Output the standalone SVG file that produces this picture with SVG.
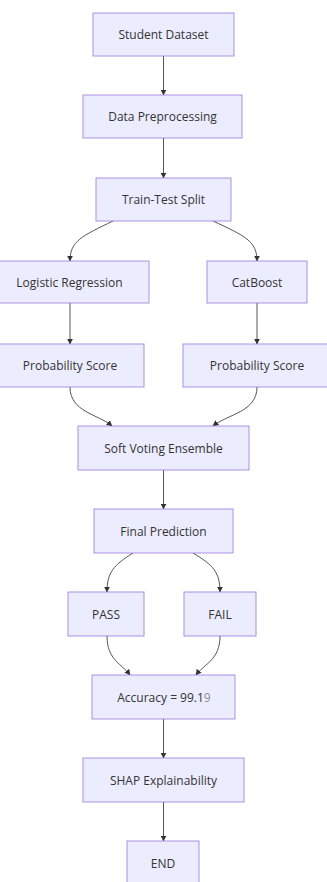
<svg xmlns="http://www.w3.org/2000/svg" width="327" height="882" viewBox="0 0 327 882">
<defs>
<style>
.node rect{fill:#ECECFF;stroke:#9370DB;stroke-width:1;stroke-opacity:0.75}
.node text{font-family:"Open Sans","Noto Sans","DejaVu Sans",sans-serif;font-size:12px;fill:#333;text-anchor:middle;dominant-baseline:central}
.edges path{fill:none;stroke:#555;stroke-width:1}
</style>
<marker id="arr" viewBox="0 0 10 10" refX="9" refY="5" markerWidth="6" markerHeight="6" markerUnits="userSpaceOnUse" orient="auto">
<path d="M0,0 L10,5 L0,10 z" fill="#333"/>
</marker>
</defs>
<rect width="327" height="882" fill="#fff"/>
<g class="edges">
<path d="M163.5,56 L163.5,95" marker-end="url(#arr)"/>
<path d="M163.5,138 L163.5,178" marker-end="url(#arr)"/>
<path d="M113,221 C82,236 70,241 70,261" marker-end="url(#arr)"/>
<path d="M213,221 C245,236 257,241 257,261" marker-end="url(#arr)"/>
<path d="M70,303 L70,344" marker-end="url(#arr)"/>
<path d="M257,303 L257,344" marker-end="url(#arr)"/>
<path d="M70,387 C70,412 98,414 112,426" marker-end="url(#arr)"/>
<path d="M257,387 C257,412 228,414 213,426" marker-end="url(#arr)"/>
<path d="M163.5,470 L163.5,509" marker-end="url(#arr)"/>
<path d="M133,553 C114,565 107,572 107,592" marker-end="url(#arr)"/>
<path d="M193,553 C213,565 220,572 220,592" marker-end="url(#arr)"/>
<path d="M107,636 C107,660 122,664 130,675" marker-end="url(#arr)"/>
<path d="M220,636 C220,660 204,664 196,675" marker-end="url(#arr)"/>
<path d="M163.5,719 L163.5,758" marker-end="url(#arr)"/>
<path d="M163.5,802 L163.5,841" marker-end="url(#arr)"/>
</g>
<g id="n1" class="node"><rect x="93" y="13" width="141" height="43"/><text x="163.5" y="34.5">Student Dataset</text></g>
<g id="n2" class="node"><rect x="83" y="95" width="159" height="43"/><text x="162.5" y="116.5">Data Preprocessing</text></g>
<g id="n3" class="node"><rect x="96" y="178" width="135" height="43"/><text x="163.5" y="199.5">Train-Test Split</text></g>
<g id="n4" class="node"><rect x="-9" y="261" width="158" height="42"/><text x="69.5" y="282">Logistic Regression</text></g>
<g id="n5" class="node"><rect x="207" y="261" width="100" height="42"/><text x="257" y="282">CatBoost</text></g>
<g id="n6" class="node"><rect x="-4" y="344" width="148" height="43"/><text x="70" y="365.5">Probability Score</text></g>
<g id="n7" class="node"><rect x="183" y="344" width="148" height="43"/><text x="257" y="365.5">Probability Score</text></g>
<g id="n8" class="node"><rect x="78" y="426" width="171" height="44"/><text x="163.5" y="448">Soft Voting Ensemble</text></g>
<g id="n9" class="node"><rect x="94" y="509" width="139" height="44"/><text x="163.5" y="531">Final Prediction</text></g>
<g id="n10" class="node"><rect x="68" y="592" width="76" height="44"/><text x="106" y="614">PASS</text></g>
<g id="n11" class="node"><rect x="184" y="592" width="72" height="44"/><text x="220" y="614">FAIL</text></g>
<g id="n12" class="node"><rect x="92" y="675" width="143" height="44"/><text x="164" y="697">Accuracy = 99.1<tspan fill-opacity="0.55">9</tspan></text></g>
<g id="n13" class="node"><rect x="83" y="758" width="161" height="44"/><text x="163.5" y="780">SHAP Explainability</text></g>
<g id="n14" class="node"><rect x="127" y="841" width="72" height="44"/><text x="163" y="863">END</text></g>
</svg>
